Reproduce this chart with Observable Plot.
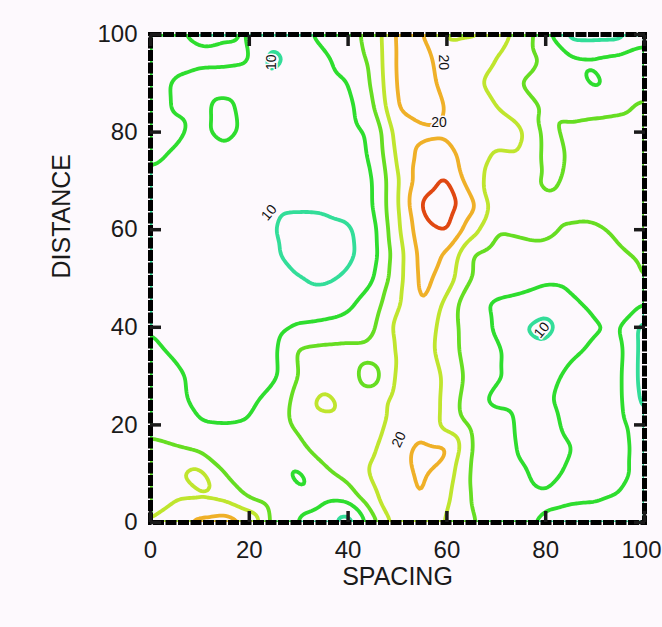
<!DOCTYPE html>
<html><head><meta charset="utf-8">
<script src="https://cdn.jsdelivr.net/npm/d3@7"></script>
<script src="https://cdn.jsdelivr.net/npm/@observablehq/plot@0.6"></script>
<style>html,body{margin:0;padding:0;background:#fdf9fd;}</style>
</head><body><div id="chart"></div>
<script>
// Axis ticks
const xTicks = [0, 20, 40, 60, 80, 100];
const yTicks = [0, 20, 40, 60, 80, 100];
// Contour levels and their colours
const levels = [10, 12.5, 15, 17.5, 20, 22.5];
const levelColors = ["#33dd99", "#2edd2e", "#66dd22", "#bfe52e", "#efb028", "#e04812"];
// Sample grid (SPACING along columns, DISTANCE along rows)
const gridX = [0,5,10,15,20,25,30,35,40,45,50,55,60,65,70,75,80,85,90,95,100];
const gridY = [100,95,90,85,80,75,70,65,60,55,50,45,40,35,30,25,20,15,10,5,0];
// Field values, one row per gridY (top to bottom)
const y100 = [13.3,12.7,12.0,12.3,12.6,11.2,11.8,13.2,14.2,15.8,20.6,20.2,17.0,17.3,18.4,16.9,13.2,9.0,9.0,9.0,11.5];
const y95  = [13.4,13.2,13.0,13.0,12.8,9.0,11.3,12.0,13.6,15.6,20.5,21.0,18.6,18.6,17.6,16.2,14.6,12.9,12.8,13.2,13.5];
const y90  = [13.5,12.2,11.6,11.5,11.3,11.0,11.1,11.6,12.4,15.3,20.4,21.3,19.0,18.0,16.8,14.9,13.8,13.6,12.0,13.5,13.7];
const y85  = [13.3,12.3,12.0,13.2,11.5,10.9,10.9,11.3,11.8,14.6,20.1,21.1,19.9,18.3,17.6,16.2,14.7,14.0,14.2,14.5,15.5];
const y80  = [13.5,13.0,11.8,13.6,11.5,11.0,10.9,11.1,11.6,13.0,18.6,19.5,19.6,18.7,18.2,18.0,14.2,15.6,16.0,16.2,16.3];
const y75  = [13.0,12.2,11.5,11.4,11.0,10.8,10.7,10.9,11.4,12.8,18.0,20.8,21.2,18.5,17.2,17.4,14.3,15.2,16.0,16.3,16.4];
const y70  = [11.8,11.3,11.0,10.8,10.7,10.6,10.5,10.8,11.3,12.3,17.2,21.5,22.9,18.5,16.5,15.8,14.6,15.3,15.8,16.2,16.3];
const y65  = [11.5,11.0,10.8,10.6,10.4,10.2,10.2,10.3,10.8,12.3,17.3,23.0,23.8,20.8,16.2,15.6,15.4,15.6,16.0,16.2,16.3];
const y60  = [11.4,11.0,10.8,10.6,10.4,10.05,9.5,9.4,9.6,11.6,17.0,21.8,22.9,18.5,15.1,15.4,15.3,14.8,14.6,15.4,15.8];
const y55  = [11.3,11.0,10.8,10.6,10.3,10.2,9.3,9.0,9.4,11.5,16.3,21.0,19.8,14.9,14.0,14.2,14.6,14.2,14.0,14.8,15.3];
const y50  = [11.2,10.9,10.6,10.4,10.3,10.2,10.1,9.5,10.3,12.2,16.5,20.8,18.8,14.9,13.8,13.6,13.0,13.1,13.5,14.2,15.1];
const y45  = [11.0,10.8,10.6,10.5,10.6,10.8,11.0,11.4,12.0,13.8,17.0,20.3,16.8,13.0,12.2,11.8,10.9,12.2,13.0,13.6,12.6];
const y40  = [12.4,11.2,11.0,11.0,11.2,11.6,12.8,13.0,13.3,14.6,18.3,19.0,16.4,13.5,12.3,10.1,9.2,11.2,12.3,12.7,8.8];
const y35  = [13.0,12.2,11.5,11.2,11.6,12.0,15.4,15.8,16.0,15.8,17.8,18.6,16.4,13.6,13.0,11.0,10.6,12.0,13.0,13.2,8.8];
const y30  = [13.4,13.0,11.8,11.4,12.0,11.9,15.2,16.0,15.8,13.8,18.0,19.2,17.0,14.0,12.8,11.8,11.3,13.3,13.2,13.0,8.8];
const y25  = [13.6,13.2,11.8,11.2,11.8,13.8,15.6,18.6,16.5,16.3,18.4,19.3,16.8,13.3,11.9,11.8,12.2,13.2,13.4,13.0,9.2];
const y20  = [14.3,13.5,12.7,12.6,12.8,14.2,15.4,16.2,16.5,16.8,18.3,19.5,16.6,14.6,13.8,12.0,11.8,13.0,13.6,13.2,11.0];
const y15  = [15.6,15.3,14.6,13.8,13.4,13.6,14.4,16.0,16.5,17.2,19.2,20.6,20.5,14.8,13.8,12.2,11.5,12.4,13.6,13.4,11.2];
const y10  = [16.5,17.2,18.4,14.9,13.6,13.3,12.0,14.3,16.0,17.8,19.4,20.3,18.8,14.6,13.8,12.8,11.8,12.9,13.4,13.2,11.5];
const y5   = [16.8,17.2,17.2,17.0,14.8,13.6,12.9,13.0,13.2,17.0,19.3,20.1,18.0,14.8,13.8,13.2,12.8,12.7,12.6,12.3,11.6];
const y0   = [17.6,19.0,20.8,21.5,19.8,14.0,12.3,11.4,8.5,14.0,18.6,19.6,17.2,15.2,14.0,12.8,12.2,11.9,12.0,12.0,11.5];
const rows = [y100,y95,y90,y85,y80,y75,y70,y65,y60,y55,y50,y45,y40,y35,y30,y25,y20,y15,y10,y5,y0];
// Contour labels
const labelX = [24.4, 24.0, 79.2, 59.4, 58.4, 50.3];
const labelY = [94.3, 63.5, 39.4, 94.3, 82.0, 17.0];
const labelText = ["10", "10", "10", "20", "20", "20"];
const labelAngle = [-90, -50, -50, 90, 0, -65];

// Table of samples built from the arrays above
const samples = [];
rows.forEach((row, j) => row.forEach((v, i) => samples.push({x: gridX[i], y: gridY[j], v})));
const labelIdx = labelText.map((_, i) => i);
const lastTick = xTicks[xTicks.length - 1];

const chart = Plot.plot({
  width: 662,
  height: 627,
  marginLeft: 150,
  marginRight: 18,
  marginTop: 34,
  marginBottom: 105,
  style: {background: "#fdf9fd", fontFamily: "'Liberation Sans', Arial, sans-serif", color: "#1a1a1a"},
  x: {domain: [0, 100]},
  y: {domain: [0, 100]},
  color: {type: "ordinal", domain: levels, range: levelColors},
  marks: [
    Plot.contour(samples, {
      x: "x", y: "y", stroke: "v",
      interpolate: "barycentric", pixelSize: 2, blur: 2,
      thresholds: levels, fill: "none",
      strokeWidth: 3.8, strokeLinejoin: "round", strokeLinecap: "round",
      clip: true
    }),
    Plot.text(labelIdx, {
      x: i => labelX[i], y: i => labelY[i], text: i => labelText[i], rotate: i => labelAngle[i],
      fontSize: 14, fill: "#111", stroke: "#fdf9fd", strokeWidth: 3
    }),
    Plot.frame({stroke: "#000", strokeWidth: 5, strokeDasharray: "11,1.5"}),
    Plot.axisX({anchor: "bottom", ticks: xTicks, tickSize: -11, fill: "none", strokeWidth: 3.5, label: null}),
    Plot.axisX({anchor: "top", ticks: xTicks, tickSize: -11, fill: "none", strokeWidth: 3.5, label: null}),
    Plot.axisY({anchor: "left", ticks: yTicks, tickSize: -11, fill: "none", strokeWidth: 3.5, label: null}),
    Plot.axisY({anchor: "right", ticks: yTicks, tickSize: -11, fill: "none", strokeWidth: 3.5, label: null}),
    Plot.axisX({anchor: "bottom", ticks: xTicks.slice(0, -1), tickSize: 0, tickPadding: 18, fontSize: 24, label: null}),
    Plot.text([lastTick], {x: d => d, text: d => String(d), frameAnchor: "bottom", lineAnchor: "top", dy: 18, dx: -3, fontSize: 24, fill: "#1a1a1a"}),
    Plot.axisY({anchor: "left", ticks: yTicks, tickSize: 0, tickPadding: 13, fontSize: 24, label: null}),
    Plot.text(["SPACING"], {frameAnchor: "bottom", dy: 62, fontSize: 25, text: d => d, fill: "#1a1a1a"}),
    Plot.text(["DISTANCE"], {frameAnchor: "left", dx: -89, rotate: -90, fontSize: 25, text: d => d, fill: "#1a1a1a"})
  ]
});
document.getElementById("chart").append(chart);
</script>
</body></html>
